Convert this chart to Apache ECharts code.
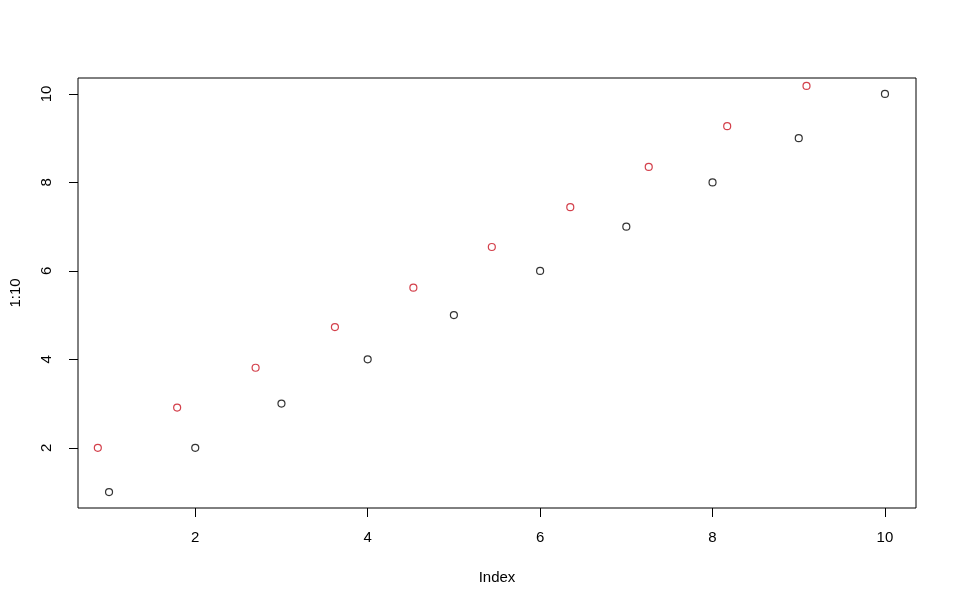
<!DOCTYPE html>
<html>
<head>
<meta charset="utf-8">
<script src="https://cdn.jsdelivr.net/npm/echarts@6/dist/echarts.min.js"></script>
<style>html,body{margin:0;padding:0;background:#fff;}#c{width:957px;height:606px;}</style>
</head>
<body>
<div id="c"></div>
<script>
// Black points: plot(1:10)
const blackX = [1, 2, 3, 4, 5, 6, 7, 8, 9, 10];
const blackY = [1, 2, 3, 4, 5, 6, 7, 8, 9, 10];
// Red points (added with points())
const redX = [0.87, 1.79, 2.70, 3.62, 4.53, 5.44, 6.35, 7.26, 8.17, 9.09];
const redY = [2.0, 2.91, 3.81, 4.73, 5.62, 6.54, 7.44, 8.35, 9.27, 10.18];
const xTicks = [2, 4, 6, 8, 10];
const yTicks = [2, 4, 6, 8, 10];

const font = 'Liberation Sans, Arial, sans-serif';
const chart = echarts.init(document.getElementById('c'), null, {renderer: 'canvas'});
const pts = (xs, ys) => xs.map((x, i) => [x, ys[i]]);
chart.setOption({
  animation: false,
  backgroundColor: '#fff',
  grid: {left: 78, right: 41, top: 78, bottom: 98, containLabel: false, outerBoundsMode: 'none',
         show: true, borderColor: '#000', borderWidth: 1, backgroundColor: 'transparent'},
  xAxis: {
    type: 'value', min: 0.64, max: 10.36,
    name: 'Index', nameLocation: 'middle', nameGap: 62,
    nameTextStyle: {fontFamily: font, fontSize: 15, color: '#000'},
    axisLine: {show: false},
    splitLine: {show: false},
    axisTick: {show: true, inside: false, length: 9, customValues: xTicks, lineStyle: {color: '#000', width: 1}},
    axisLabel: {customValues: xTicks, fontFamily: font, fontSize: 15, color: '#000', margin: 22}
  },
  yAxis: {
    type: 'value', min: 0.64, max: 10.36,
    name: '1:10', nameLocation: 'middle', nameGap: 55, nameRotate: 90,
    nameTextStyle: {fontFamily: font, fontSize: 15, color: '#000'},
    axisLine: {show: false},
    splitLine: {show: false},
    axisTick: {show: true, inside: false, length: 9, customValues: yTicks, lineStyle: {color: '#000', width: 1}},
    axisLabel: {customValues: yTicks, rotate: 90, fontFamily: font, fontSize: 15, color: '#000', margin: 24}
  },
  series: [
    {type: 'scatter', data: pts(blackX, blackY), symbol: 'circle', symbolSize: 7,
     itemStyle: {color: '#fff', borderColor: '#000', borderWidth: 1.2}},
    {type: 'scatter', data: pts(redX, redY), symbol: 'circle', symbolSize: 7,
     itemStyle: {color: '#fff', borderColor: '#c8101e', borderWidth: 1.2}}
  ]
});
</script>
</body>
</html>
